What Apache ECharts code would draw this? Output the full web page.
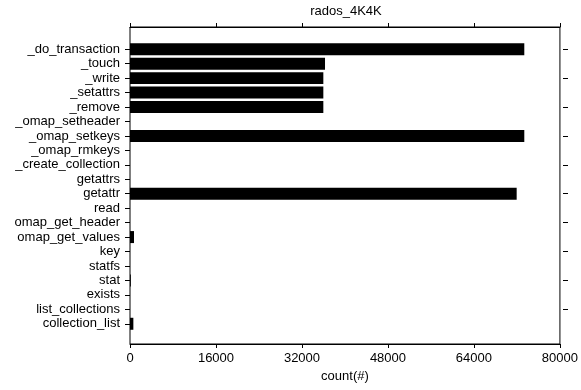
<!DOCTYPE html>
<html>
<head>
<meta charset="utf-8">
<script src="https://cdn.jsdelivr.net/npm/echarts@6/dist/echarts.min.js"></script>
<style>
html,body{margin:0;padding:0;background:#fff;}
#c{width:581px;height:390px;}
</style>
</head>
<body>
<div id="c"></div>
<script>
const titleText = 'rados_4K4K';
const xName = 'count(#)';
const categories = ['_do_transaction','_touch','_write','_setattrs','_remove','_omap_setheader','_omap_setkeys','_omap_rmkeys','_create_collection','getattrs','getattr','read','omap_get_header','omap_get_values','key','statfs','stat','exists','list_collections','collection_list'];
const counts = [72850, 36030, 35720, 35720, 35720, 0, 72850, 0, 0, 0, 71440, 0, 0, 740, 0, 0, 150, 0, 0, 620];
const xMin = 0, xMax = 80000, xStep = 16000;

const font = "'Liberation Sans', Arial, Helvetica, sans-serif";
const ink = '#000';
const chart = echarts.init(document.getElementById('c'), null, {renderer:'canvas'});
chart.setOption({
  animation: false,
  backgroundColor: '#fff',
  title: {
    text: titleText, left: 346, top: 5, padding: 0, textAlign: 'center',
    textStyle: {fontFamily: font, fontSize: 13, fontWeight: 'normal', color: ink}
  },
  grid: [
    {left: 130, right: 18, top: 27, bottom: 46, show: true, borderColor: '#000', borderWidth: 1, backgroundColor: 'transparent'},
    {left: 130, right: 18, top: 42, bottom: 59}
  ],
  xAxis: [
    {gridIndex: 0, type: 'value', position: 'bottom', min: xMin, max: xMax, interval: xStep,
     name: xName, nameLocation: 'middle', nameGap: 24,
     nameTextStyle: {fontFamily: font, fontSize: 13, color: ink},
     axisLine: {show: true, lineStyle: {color: '#000', width: 1}},
     axisTick: {show: true, inside: false, length: 4, lineStyle: {color: '#000'}},
     axisLabel: {fontFamily: font, fontSize: 13, color: ink, margin: 8, formatter: v => String(v)},
     splitLine: {show: false}},
    {gridIndex: 0, type: 'value', position: 'top', min: xMin, max: xMax, interval: xStep,
     axisLine: {show: true, lineStyle: {color: '#000', width: 1}},
     axisTick: {show: true, inside: false, length: 4, lineStyle: {color: '#000'}},
     axisLabel: {show: false}, splitLine: {show: false}},
    {gridIndex: 1, type: 'value', min: xMin, max: xMax, show: false}
  ],
  yAxis: [
    {gridIndex: 0, type: 'value', show: false},
    {gridIndex: 1, type: 'category', data: categories, inverse: true, position: 'left',
     axisLine: {show: false},
     axisTick: {show: true, alignWithLabel: true, inside: false, length: 5, lineStyle: {color: '#000'}},
     axisLabel: {fontFamily: font, fontSize: 13, color: ink, margin: 10, interval: 0}},
    {gridIndex: 1, type: 'category', data: categories, inverse: true, position: 'right',
     axisLine: {show: false},
     axisTick: {show: true, alignWithLabel: true, inside: false, length: 5, lineStyle: {color: '#000'}},
     axisLabel: {show: false}}
  ],
  series: [{
    type: 'bar', xAxisIndex: 2, yAxisIndex: 1, data: counts,
    barCategoryGap: '17%', itemStyle: {color: '#000'}
  }]
});
</script>
</body>
</html>
